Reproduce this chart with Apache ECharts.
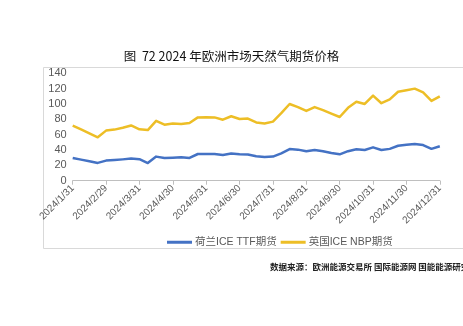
<!DOCTYPE html>
<html>
<head>
<meta charset="utf-8">
<script src="https://cdn.jsdelivr.net/npm/echarts@6/dist/echarts.min.js"></script>
<style>
  html, body { margin: 0; padding: 0; background: #ffffff; }
  #chart { width: 463px; height: 326px; }
</style>
</head>
<body>
<div id="chart"></div>
<script>
// Weekly settlement dates; every fourth one is a month end and gets a label
var dates = [
  '2024/1/31', '2024/2/7', '2024/2/14', '2024/2/21',
  '2024/2/29', '2024/3/8', '2024/3/15', '2024/3/22',
  '2024/3/31', '2024/4/8', '2024/4/15', '2024/4/22',
  '2024/4/30', '2024/5/8', '2024/5/15', '2024/5/23',
  '2024/5/31', '2024/6/7', '2024/6/14', '2024/6/21',
  '2024/6/30', '2024/7/8', '2024/7/15', '2024/7/23',
  '2024/7/31', '2024/8/8', '2024/8/15', '2024/8/23',
  '2024/8/31', '2024/9/6', '2024/9/13', '2024/9/20',
  '2024/9/30', '2024/10/8', '2024/10/15', '2024/10/23',
  '2024/10/31', '2024/11/8', '2024/11/15', '2024/11/22',
  '2024/11/30', '2024/12/6', '2024/12/13', '2024/12/20',
  '2024/12/31'
];

// Dutch ICE TTF futures
var ttf = [
  29.7, 27.5, 25.3, 23.2, 26.2, 27.0, 27.8, 28.8, 28.0, 23.0,
  31.4, 29.5, 30.0, 30.5, 29.7, 34.8, 34.9, 34.9, 33.5, 35.5,
  34.4, 34.2, 32.0, 31.0, 31.4, 35.7, 41.2, 40.5, 38.3, 40.0,
  38.3, 36.0, 34.4, 38.5, 41.0, 40.1, 43.5, 40.0, 41.5, 45.5,
  47.0, 47.9, 46.5, 41.5, 44.9
];

// UK ICE NBP futures
var nbp = [
  71.8, 66.9, 61.8, 56.6, 65.3, 66.6, 69.0, 72.0, 67.0, 66.0,
  78.0, 73.0, 74.5, 74.0, 75.3, 82.5, 82.7, 82.5, 79.5, 84.0,
  80.5, 81.0, 76.0, 74.5, 77.0, 88.0, 100.0, 96.0, 91.0, 96.0,
  92.0, 87.5, 83.0, 95.0, 103.0, 100.0, 111.0, 101.0, 106.0, 116.0,
  118.0, 120.0, 115.0, 104.0, 110.0
];

var seriesNames = ['荷兰ICE TTF期货', '英国ICE NBP期货'];
var titleText = '图  72 2024 年欧洲市场天然气期货价格';
var sourceText = '数据来源：欧洲能源交易所 国际能源网 国能能源研究院';

var chart = echarts.init(document.getElementById('chart'), null, { renderer: 'canvas' });

var axisGrey = '#595959';
var latin = '"Liberation Sans", Arial, "Noto Sans CJK SC", sans-serif';

chart.setOption({
  backgroundColor: '#ffffff',
  animation: false,
  title: {
    text: titleText,
    left: 'center',
    top: 45,
    textStyle: {
      fontFamily: '"Noto Sans CJK SC", sans-serif',
      fontSize: 12.5,
      fontWeight: 'normal',
      color: '#111111'
    }
  },
  graphic: [
    {
      type: 'rect',
      left: 41,
      top: 65,
      shape: { width: 420, height: 181 },
      style: { fill: 'none', stroke: '#d9d9d9', lineWidth: 1 },
      silent: true,
      z: -1
    },
    {
      type: 'text',
      left: 270,
      top: 263,
      style: {
        text: sourceText,
        font: 'bold 8.5px "Noto Sans CJK SC", sans-serif',
        fill: '#222222'
      },
      silent: true
    }
  ],
  grid: {
    left: 72.7,
    right: 23.2,
    top: 73.3,
    bottom: 145.3,
    containLabel: false
  },
  legend: {
    data: seriesNames,
    left: 162,
    top: 232,
    icon: 'rect',
    itemWidth: 25,
    itemHeight: 3,
    itemGap: 4,
    textStyle: {
      fontFamily: latin,
      fontSize: 10.5,
      color: axisGrey,
      padding: [0, 0, 0, -2]
    }
  },
  xAxis: {
    type: 'category',
    data: dates,
    boundaryGap: false,
    axisLine: { lineStyle: { color: '#bfbfbf', width: 1 } },
    axisTick: {
      show: true,
      interval: 3,
      length: 4,
      lineStyle: { color: '#bfbfbf' }
    },
    axisLabel: {
      interval: 3,
      rotate: 45,
      margin: 6,
      fontFamily: latin,
      fontSize: 10,
      color: axisGrey
    },
    splitLine: { show: false }
  },
  yAxis: {
    type: 'value',
    min: 0,
    max: 140,
    interval: 20,
    axisLine: { show: false },
    axisTick: { show: false },
    splitLine: { show: false },
    axisLabel: {
      margin: 6,
      fontFamily: latin,
      fontSize: 11,
      color: axisGrey
    }
  },
  series: [
    {
      name: seriesNames[0],
      type: 'line',
      data: ttf,
      showSymbol: false,
      symbol: 'none',
      lineStyle: { color: '#4472C4', width: 2.5, join: 'round' },
      itemStyle: { color: '#4472C4' }
    },
    {
      name: seriesNames[1],
      type: 'line',
      data: nbp,
      showSymbol: false,
      symbol: 'none',
      lineStyle: { color: '#EDBE26', width: 2.5, join: 'round' },
      itemStyle: { color: '#EDBE26' }
    }
  ]
});
</script>
</body>
</html>
